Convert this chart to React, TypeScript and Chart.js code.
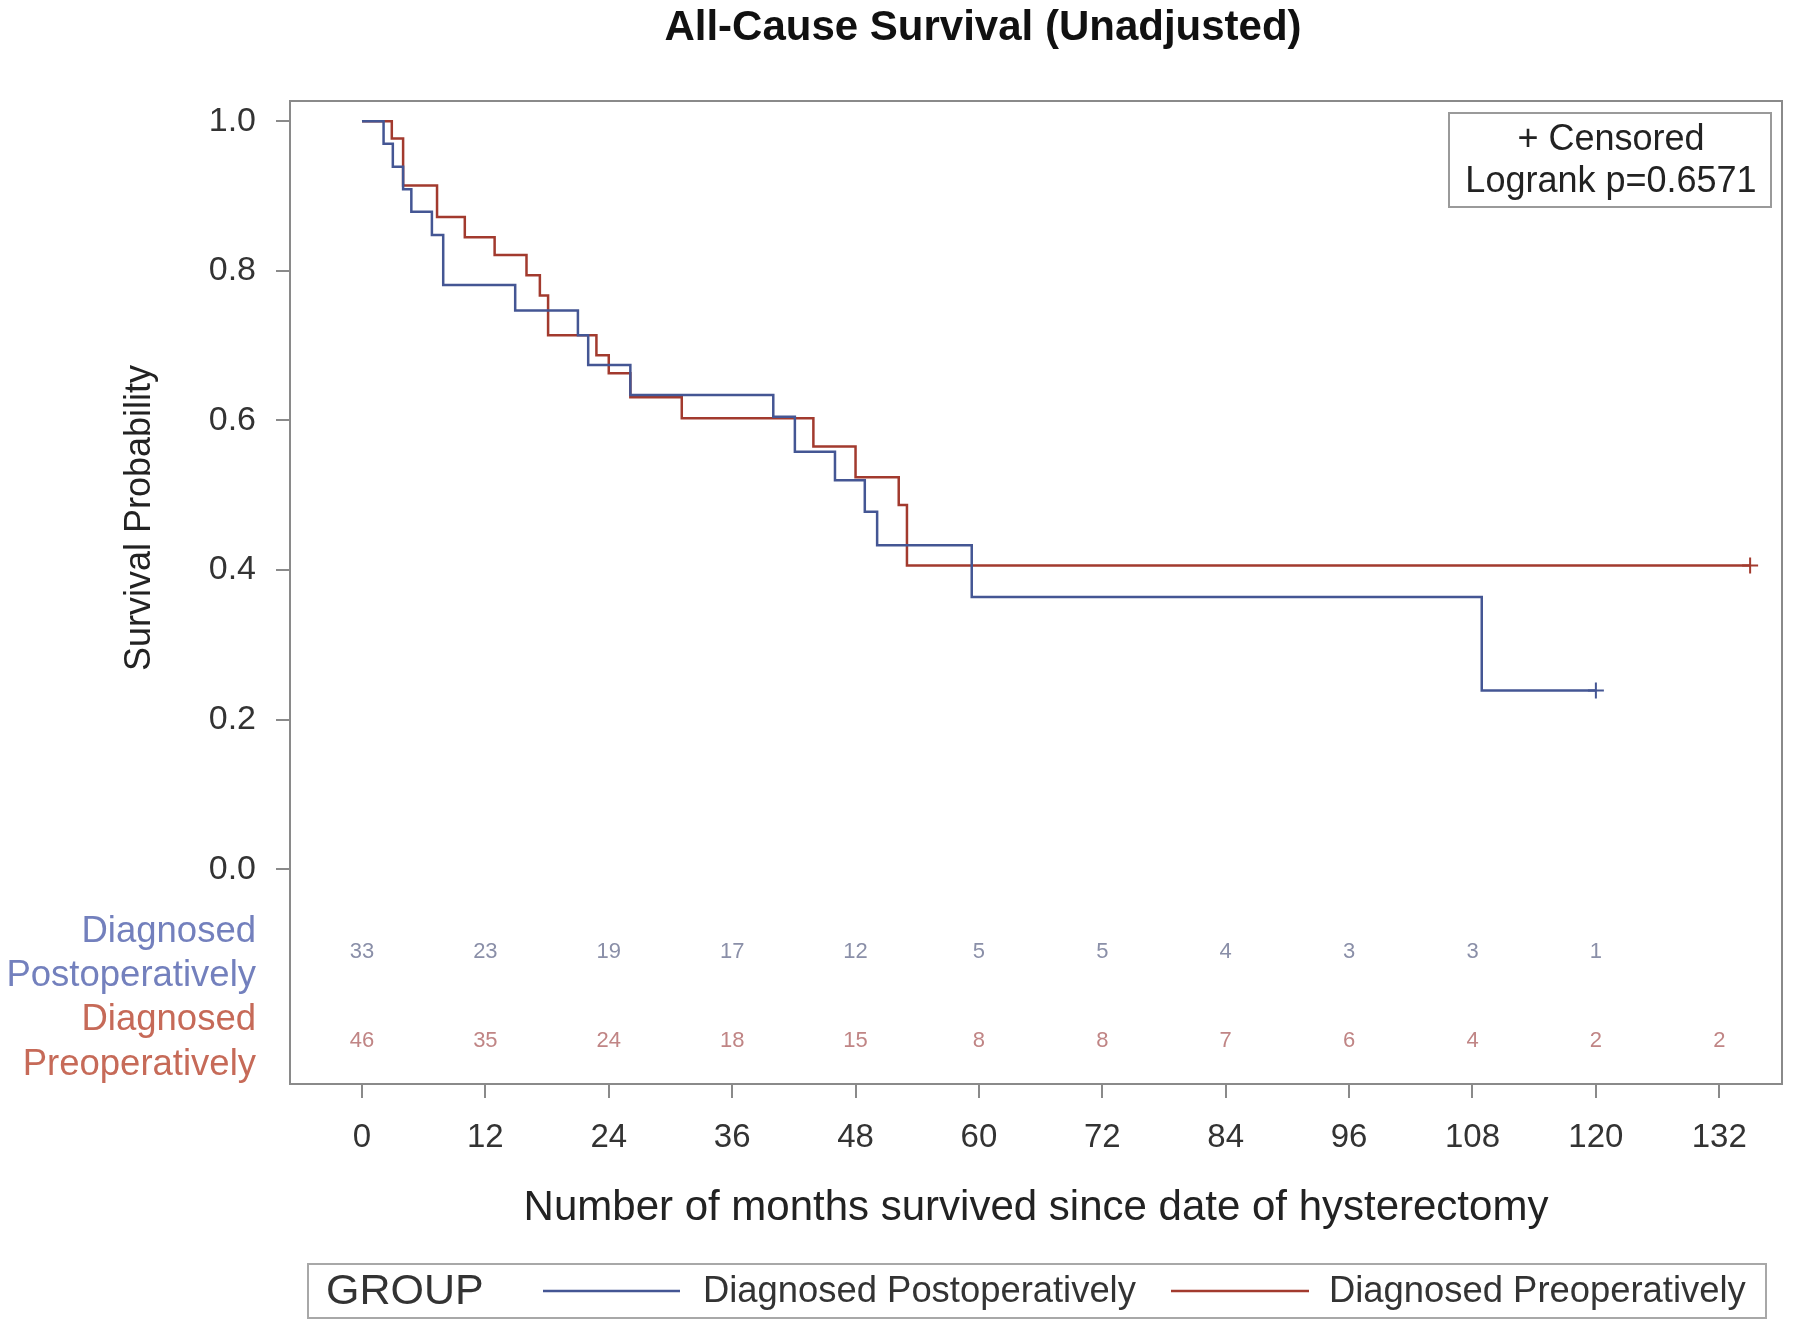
import React, { useEffect, useRef } from 'react';
import { Chart, registerables } from 'chart.js';

Chart.register(...registerables);

const TITLE = 'All-Cause Survival (Unadjusted)';
const X_TITLE = 'Number of months survived since date of hysterectomy';
const Y_TITLE = 'Survival Probability';
const LEGEND_TITLE = 'GROUP';
const GROUP_LABELS = ['Diagnosed Postoperatively', 'Diagnosed Preoperatively'];
const STAT_LINES = ['+ Censored', 'Logrank p=0.6571'];

const X_TICKS = [0, 12, 24, 36, 48, 60, 72, 84, 96, 108, 120, 132];
const Y_TICKS = [0, 0.2, 0.4, 0.6, 0.8, 1.0];

// Kaplan-Meier step values (time in months, survival probability)
const postTimes = [0, 2.1, 3.0, 4.0, 4.8, 6.8, 7.9, 14.9, 21.0, 22.0, 26.1, 40.0, 42.1, 46.0, 48.9, 50.1, 59.3, 108.9, 120];
const postSurv = [1.0, 0.970, 0.939, 0.909, 0.879, 0.848, 0.781, 0.747, 0.714, 0.674, 0.634, 0.605, 0.558, 0.520, 0.478, 0.433, 0.364, 0.239, 0.239];
const preTimes = [0, 2.9, 4.0, 7.3, 10.0, 12.9, 16.0, 17.3, 18.1, 22.8, 24.0, 26.1, 31.1, 43.9, 48.0, 52.2, 53.0, 135];
const preSurv = [1.0, 0.977, 0.914, 0.872, 0.845, 0.821, 0.794, 0.767, 0.714, 0.687, 0.663, 0.631, 0.603, 0.565, 0.524, 0.487, 0.406, 0.406];

const postCensorTimes = [120];
const postCensorSurv = [0.239];
const preCensorTimes = [135];
const preCensorSurv = [0.406];

// Numbers at risk
const postAtRisk = [33, 23, 19, 17, 12, 5, 5, 4, 3, 3, 1];
const preAtRisk = [46, 35, 24, 18, 15, 8, 8, 7, 6, 4, 2, 2];

const BLUE = '#445694';
const RED = '#A23A2E';
const FONT = '"Liberation Sans", Arial, sans-serif';

const toPts = (xs: number[], ys: number[]) => xs.map((x, i) => ({ x, y: ys[i] }));

const extrasPlugin = {
  id: 'kmExtras',
  afterDraw(chart: any) {
    const { ctx, chartArea, scales } = chart;
    const xs = scales.x;
    const ys = scales.y;
    ctx.save();
    // frame
    ctx.strokeStyle = '#8a8a8a';
    ctx.lineWidth = 2;
    ctx.strokeRect(chartArea.left, chartArea.top, chartArea.right - chartArea.left, chartArea.bottom - chartArea.top);

    // title
    ctx.fillStyle = '#111';
    ctx.font = `bold 42px ${FONT}`;
    ctx.textAlign = 'center';
    ctx.textBaseline = 'middle';
    ctx.fillText(TITLE, 983, 28);

    // x title
    ctx.fillStyle = '#222';
    ctx.font = `42px ${FONT}`;
    ctx.fillText(X_TITLE, (chartArea.left + chartArea.right) / 2, 1208);

    // y title
    ctx.save();
    ctx.translate(140, 518);
    ctx.rotate(-Math.PI / 2);
    ctx.font = `36px ${FONT}`;
    ctx.fillText(Y_TITLE, 0, 0);
    ctx.restore();

    // at-risk row labels
    ctx.textAlign = 'right';
    ctx.font = `36.5px ${FONT}`;
    ctx.fillStyle = '#7380bd';
    ctx.fillText('Diagnosed', 256, 932);
    ctx.fillText('Postoperatively', 256, 976);
    ctx.fillStyle = '#c66a58';
    ctx.fillText('Diagnosed', 256, 1020);
    ctx.fillText('Preoperatively', 256, 1065);

    // at-risk numbers
    ctx.textAlign = 'center';
    ctx.font = `22px ${FONT}`;
    ctx.fillStyle = '#8a8fa8';
    postAtRisk.forEach((n, i) => {
      ctx.fillText(String(n), xs.getPixelForValue(X_TICKS[i]), ys.getPixelForValue(-0.11));
    });
    ctx.fillStyle = '#c08585';
    preAtRisk.forEach((n, i) => {
      ctx.fillText(String(n), xs.getPixelForValue(X_TICKS[i]), ys.getPixelForValue(-0.23));
    });

    // stats box
    ctx.strokeStyle = '#9a9a9a';
    ctx.lineWidth = 2;
    ctx.strokeRect(1449, 113, 322, 94);
    ctx.fillStyle = '#222';
    ctx.font = `36px ${FONT}`;
    ctx.fillText(STAT_LINES[0], 1611, 140);
    ctx.fillText(STAT_LINES[1], 1611, 182);

    // legend
    ctx.strokeStyle = '#a8a8a8';
    ctx.strokeRect(308, 1264, 1458, 54);
    ctx.textAlign = 'left';
    ctx.fillStyle = '#333';
    ctx.font = `43px ${FONT}`;
    ctx.fillText(LEGEND_TITLE, 326, 1292);
    ctx.lineWidth = 2.5;
    ctx.strokeStyle = BLUE;
    ctx.beginPath(); ctx.moveTo(543, 1291); ctx.lineTo(680, 1291); ctx.stroke();
    ctx.strokeStyle = RED;
    ctx.beginPath(); ctx.moveTo(1171, 1291); ctx.lineTo(1309, 1291); ctx.stroke();
    ctx.font = `36.4px ${FONT}`;
    ctx.fillText(GROUP_LABELS[0], 703, 1292);
    ctx.fillText(GROUP_LABELS[1], 1329, 1292);
    ctx.restore();
  },
};

export default function App() {
  const ref = useRef<HTMLCanvasElement | null>(null);
  useEffect(() => {
    if (!ref.current) return;
    const chart = new Chart(ref.current, {
      type: 'line',
      data: {
        datasets: [
          {
            label: GROUP_LABELS[0],
            data: toPts(postTimes, postSurv),
            borderColor: BLUE,
            borderWidth: 2.5,
            stepped: 'before',
            pointRadius: 0,
            fill: false,
          },
          {
            label: GROUP_LABELS[1],
            data: toPts(preTimes, preSurv),
            borderColor: RED,
            borderWidth: 2.5,
            stepped: 'before',
            pointRadius: 0,
            fill: false,
          },
          {
            label: 'post censored',
            data: toPts(postCensorTimes, postCensorSurv),
            showLine: false,
            pointStyle: 'cross',
            pointRadius: 8,
            borderColor: BLUE,
            pointBorderWidth: 2,
          },
          {
            label: 'pre censored',
            data: toPts(preCensorTimes, preCensorSurv),
            showLine: false,
            pointStyle: 'cross',
            pointRadius: 8,
            borderColor: RED,
            pointBorderWidth: 2,
          },
        ],
      },
      options: {
        responsive: false,
        animation: false,
        events: [],
        layout: { padding: { top: 101, right: 18, bottom: 0, left: 0 } },
        plugins: { legend: { display: false }, title: { display: false }, tooltip: { enabled: false } },
        scales: {
          x: {
            type: 'linear',
            min: -7,
            max: 138.1,
            afterFit: (s: any) => { s.height = 248; },
            afterBuildTicks: (s: any) => { s.ticks = X_TICKS.map((v) => ({ value: v })); },
            ticks: {
              color: '#333',
              font: { size: 33, family: FONT },
              padding: 20,
              maxRotation: 0,
              autoSkip: false,
              callback: (v: any) => String(v),
            },
            grid: { drawOnChartArea: false, drawTicks: true, tickLength: 14, color: '#8a8a8a', lineWidth: 2 },
            border: { display: true, color: '#8a8a8a', width: 2 },
          },
          y: {
            type: 'linear',
            min: -0.287,
            max: 1.027,
            afterFit: (s: any) => { s.width = 290; },
            afterBuildTicks: (s: any) => { s.ticks = Y_TICKS.map((v) => ({ value: v })); },
            ticks: {
              color: '#333',
              font: { size: 34, family: FONT },
              padding: 20,
              callback: (v: any) => Number(v).toFixed(1),
            },
            grid: { drawOnChartArea: false, drawTicks: true, tickLength: 14, color: '#8a8a8a', lineWidth: 2 },
            border: { display: true, color: '#8a8a8a', width: 2 },
          },
        },
      },
      plugins: [extrasPlugin],
    });
    return () => chart.destroy();
  }, []);
  return (
    <div style={{ position: 'absolute', left: 0, top: 0, width: 1800, height: 1332, background: '#fff' }}>
      <canvas ref={ref} width={1800} height={1332} style={{ width: 1800, height: 1332, display: 'block' }} />
    </div>
  );
}
